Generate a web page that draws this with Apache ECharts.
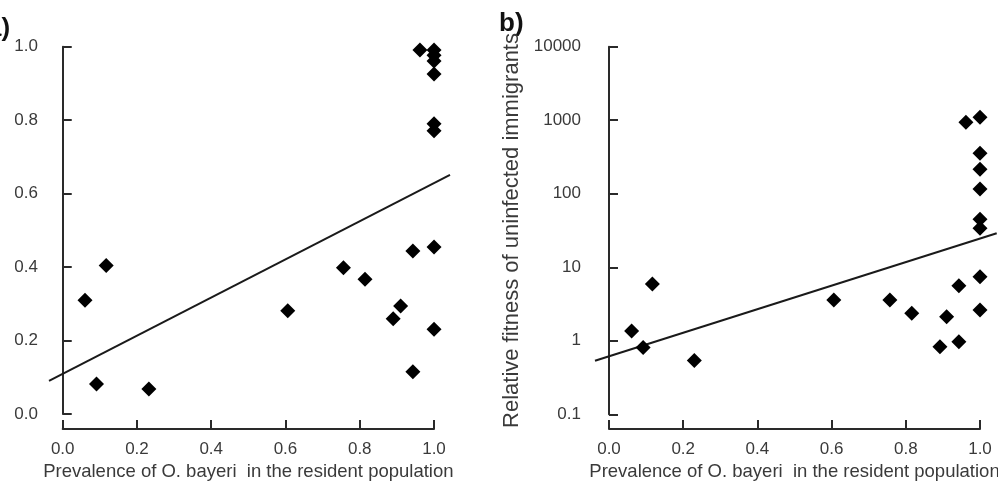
<!DOCTYPE html>
<html>
<head>
<meta charset="utf-8">
<script src="https://cdn.jsdelivr.net/npm/echarts@6/dist/echarts.min.js"></script>
<style>
html,body{margin:0;padding:0;background:#fff;}
#chart{width:998px;height:486px;}
</style>
</head>
<body>
<div id="chart"></div>
<script>
// ---------- data ----------
var prevalenceA = [0.060, 0.091, 0.117, 0.232, 0.606, 0.756, 0.814, 0.890, 0.910, 0.943, 0.943, 0.962, 1.0, 1.0, 1.0, 1.0, 1.0, 1.0, 1.0, 1.0];
var proportionA = [0.310, 0.082, 0.404, 0.068, 0.281, 0.398, 0.367, 0.259, 0.294, 0.444, 0.115, 0.991, 0.991, 0.977, 0.961, 0.926, 0.790, 0.771, 0.455, 0.231];
var prevalenceB = [0.061, 0.092, 0.117, 0.230, 0.606, 0.757, 0.816, 0.892, 0.910, 0.943, 0.943, 0.962, 1.0, 1.0, 1.0, 1.0, 1.0, 1.0, 1.0, 1.0];
var fitnessB    = [1.36, 0.81, 5.9, 0.54, 3.6, 3.6, 2.37, 0.83, 2.13, 5.6, 0.97, 940, 1100, 356, 215, 116, 45, 34, 7.45, 2.62];
var fitLineAX = [-0.037, 1.043];
var fitLineAY = [0.090, 0.651];
var fitLineBX = [-0.0377, 1.045];
var fitLineBY = [0.536, 29];
var xTicks = [0, 0.2, 0.4, 0.6, 0.8, 1.0];
var xTitle = 'Prevalence of O. bayeri  in the resident population';
var yTitleB = 'Relative fitness of uninfected immigrants';

function pairs(xs, ys){ return xs.map(function(x,i){ return [x, ys[i]]; }); }

var FONT = '"Liberation Sans", Arial, Helvetica, sans-serif';
var AX = '#2a2a2a';
var TXT = '#3a3a3a';

function xAxisVisible(gi){
  return {
    gridIndex: gi, type: 'value', min: xTicks[0], max: xTicks[xTicks.length-1], interval: 0.2,
    name: xTitle, nameLocation: 'middle', nameGap: 27,
    nameTextStyle: {fontFamily: FONT, fontSize: 18.5, color: TXT},
    axisLine: {show: true, lineStyle: {color: AX, width: 2}},
    axisTick: {show: true, inside: true, length: 9, lineStyle: {color: AX, width: 2}},
    axisLabel: {fontFamily: FONT, fontSize: 17, color: TXT, margin: 12,
      formatter: function(v){ return v.toFixed(1); }},
    splitLine: {show: false}
  };
}
function hiddenAxis(gi, extra){
  var o = {gridIndex: gi, type: 'value', show: false, splitLine: {show: false}};
  for (var k in extra) o[k] = extra[k];
  return o;
}
function grid(l, t, w, h){
  return {left: l, top: t, width: w, height: h, containLabel: false, outerBoundsMode: 'none'};
}

var chart = echarts.init(document.getElementById('chart'), null, {renderer: 'canvas'});
chart.setOption({
  backgroundColor: '#fff',
  animation: false,
  graphic: [
    {type: 'text', left: -13, top: 16, style: {text: 'a)', font: 'bold 26px ' + FONT, fill: '#111'}},
    {type: 'text', left: 499, top: 11, style: {text: 'b)', font: 'bold 26px ' + FONT, fill: '#111'}}
  ],
  grid: [
    grid(49, 46.7, 401, 367.3),
    grid(62.7, 46.7, 371.3, 382.3),
    grid(595, 46.7, 403, 367.6),
    grid(609, 46.7, 371, 382.3)
  ],
  xAxis: [
    hiddenAxis(0, {min: fitLineAX[0], max: fitLineAX[1]}),
    xAxisVisible(1),
    hiddenAxis(2, {min: fitLineBX[0], max: 1.0485}),
    xAxisVisible(3)
  ],
  yAxis: [
    {gridIndex: 0, type: 'value', min: 0, max: 1, interval: 0.2,
      axisLine: {show: true, lineStyle: {color: AX, width: 2}},
      axisTick: {show: true, inside: true, length: 9, lineStyle: {color: AX, width: 2}},
      axisLabel: {fontFamily: FONT, fontSize: 17, color: TXT, margin: 11,
        formatter: function(v){ return v.toFixed(1); }},
      splitLine: {show: false}},
    hiddenAxis(1, {min: 0, max: 1}),
    {gridIndex: 2, type: 'log', logBase: 10, min: 0.1, max: 10000,
      name: yTitleB, nameLocation: 'middle', nameGap: 72, nameRotate: 90,
      nameTextStyle: {fontFamily: FONT, fontSize: 22, color: TXT},
      axisLine: {show: true, lineStyle: {color: AX, width: 2}},
      axisTick: {show: true, inside: true, length: 9, lineStyle: {color: AX, width: 2}},
      axisLabel: {fontFamily: FONT, fontSize: 17, color: TXT, margin: 14,
        formatter: function(v){ return String(+Number(v).toPrecision(6)); }},
      splitLine: {show: false}},
    hiddenAxis(3, {min: 0, max: 1})
  ],
  series: [
    {type: 'line', xAxisIndex: 0, yAxisIndex: 0, data: pairs(fitLineAX, fitLineAY),
      showSymbol: false, symbol: 'none', lineStyle: {color: '#1a1a1a', width: 2}, clip: false, z: 2},
    {type: 'scatter', xAxisIndex: 0, yAxisIndex: 0, data: pairs(prevalenceA, proportionA),
      symbol: 'diamond', symbolSize: [15, 15], itemStyle: {color: '#000', opacity: 1}, clip: false, z: 3},
    {type: 'line', xAxisIndex: 2, yAxisIndex: 2, data: pairs(fitLineBX, fitLineBY),
      showSymbol: false, symbol: 'none', lineStyle: {color: '#1a1a1a', width: 2}, clip: false, z: 2},
    {type: 'scatter', xAxisIndex: 2, yAxisIndex: 2, data: pairs(prevalenceB, fitnessB),
      symbol: 'diamond', symbolSize: [15, 15], itemStyle: {color: '#000', opacity: 1}, clip: false, z: 3}
  ]
});
</script>
</body>
</html>
